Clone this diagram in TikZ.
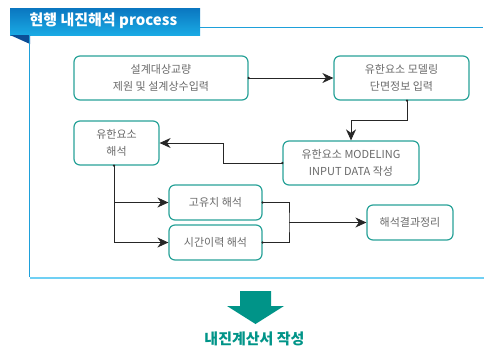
\documentclass[tikz,border=0pt]{standalone}
\usepackage{fontspec}
\setmainfont{Noto Sans CJK KR}
\usetikzlibrary{arrows.meta}
\definecolor{boxteal}{RGB}{40,162,152}
\definecolor{arrowteal}{RGB}{0,148,136}
\definecolor{hdtop}{RGB}{10,118,192}
\definecolor{hdbot}{RGB}{26,170,228}
\definecolor{hdfold}{RGB}{12,78,150}
\definecolor{frameblue}{RGB}{30,160,218}
\definecolor{framelight}{RGB}{112,208,244}
\definecolor{txtgray}{RGB}{105,105,105}
\tikzset{
    box/.style={draw=boxteal, line width=1.2pt, rounded corners=6pt, align=center,
        text=txtgray, font=\fontsize{11}{17}\selectfont},
    link/.style={line width=0.9pt, draw=black!85},
    tip/.style={link, -{Stealth[length=11pt,width=10pt,inset=3.5pt]}},
    dot/.style={fill=black!85, circle, inner sep=0pt, minimum size=2.6pt},
}

\begin{document}
\begin{tikzpicture}[x=1pt, y=-1pt]
        \useasboundingbox (0,0) rectangle (484,348);

        % header and frame
        \shade[top color=hdtop, bottom color=hdbot] (10,8) rectangle (200,35);
        \fill[hdfold] (10,35) -- (30,35) -- (30,44) -- cycle;
        \node[anchor=west, text=white, font=\fontsize{15}{17}\selectfont\bfseries] (title) at (26,21) {현행 내진해석 process};
        \draw[frameblue, line width=1pt] (200,27) -- (483,27);
        \draw[frameblue, line width=1pt] (29.5,35) -- (29.5,277);
        \draw[framelight, line width=2pt] (29.5,277.5) -- (484,277.5);

        % boxes
        \node[box, minimum width=174pt, minimum height=44pt] (input) at (161,78) {설계대상교량\\제원 및 설계상수입력};
        \node[box, minimum width=135pt, minimum height=44pt] (model) at (401.5,78) {유한요소 모델링\\단면정보 입력};
        \node[box, minimum width=85pt, minimum height=44pt] (fea) at (116.5,143) {유한요소\\해석};
        \node[box, minimum width=136pt, minimum height=44pt] (data) at (351,163) {유한요소 MODELING\\INPUT DATA 작성};
        \node[box, minimum width=93pt, minimum height=35pt] (eigen) at (215.5,202.5) {고유치 해석};
        \node[box, minimum width=93pt, minimum height=35pt] (hist) at (215.5,242.5) {시간이력 해석};
        \node[box, minimum width=86pt, minimum height=35pt] (result) at (410,222.5) {해석결과정리};

        % connectors
        \draw[tip] (input.east) -- (model.west);
        \node[dot] at (input.east) {};
        \draw[tip] ([xshift=5.5pt]model.south) -- ++(0,20) -| (data.north);
        \node[dot] at ([xshift=5.5pt]model.south) {};
        \draw[tip] (data.west) -- ++(-59,0) |- (fea.east);
        \node[dot] at (data.west) {};
        \draw[tip] ([xshift=-2.5pt]fea.south) |- (eigen.west);
        \draw[tip] ([xshift=-2.5pt]fea.south) |- (hist.west);
        \node[dot] at ([xshift=-2.5pt]fea.south) {};
        \coordinate (join) at (289,222.5);
        \draw[link] (eigen.east) -| (join) |- (hist.east);
        \node[dot] at (eigen.east) {};
        \node[dot] at (hist.east) {};
        \draw[tip] (join) -- (result.west);

        % result arrow
        \fill[arrowteal] (240,291) -- (271,291) -- (271,306) -- (284,306) -- (255.5,324)
            -- (227,306) -- (240,306) -- cycle;
        \node[text=arrowteal, font=\fontsize{15}{17}\selectfont\bfseries] (report) at (254.5,339) {내진계산서 작성};
    \end{tikzpicture}
\end{document}
